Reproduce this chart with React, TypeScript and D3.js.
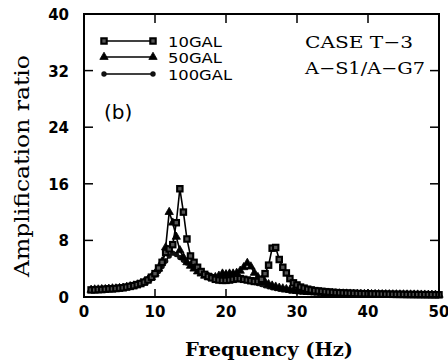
import React, { useEffect } from 'react';
import * as d3 from 'd3';

const frequencies = [
  1, 1.5, 2, 2.5, 3, 3.5, 4, 4.5, 5, 5.5,
  6, 6.5, 7, 7.5, 8, 8.5, 9, 9.5, 10, 10.5,
  11, 11.5, 12, 12.5, 13, 13.5, 14, 14.5, 15, 15.5,
  16, 16.5, 17, 17.5, 18, 18.5, 19, 19.5, 20, 20.5,
  21, 21.5, 22, 22.5, 23, 23.5, 24, 24.5, 25, 25.5,
  26, 26.5, 27, 27.5, 28, 28.5, 29, 29.5, 30, 30.5,
  31, 31.5, 32, 32.5, 33, 33.5, 34, 34.5, 35, 35.5,
  36, 36.5, 37, 37.5, 38, 38.5, 39, 39.5, 40, 40.5,
  41, 41.5, 42, 42.5, 43, 43.5, 44, 44.5, 45, 45.5,
  46, 46.5, 47, 47.5, 48, 48.5, 49, 49.5, 50,
];

const gal10 = [
  1.0, 1.0, 1.05, 1.05, 1.1, 1.15, 1.15, 1.2, 1.25, 1.3,
  1.4, 1.5, 1.6, 1.75, 1.9, 2.1, 2.4, 2.8, 3.3, 4.1,
  4.9, 6.3, 6.8, 7.4, 10.5, 15.3, 12.0, 8.2, 5.8, 4.9,
  4.2, 3.6, 3.2, 2.9, 2.7, 2.5, 2.4, 2.35, 2.35, 2.4,
  2.5, 2.6, 2.6, 2.5, 2.4, 2.3, 2.2, 2.2, 2.5, 3.3,
  4.5, 6.9, 7.0, 5.3, 4.2, 3.4, 2.6, 2.0, 1.7, 1.4,
  1.25, 1.1, 1.0, 0.9, 0.85, 0.8, 0.75, 0.7, 0.66, 0.62,
  0.6, 0.57, 0.55, 0.53, 0.51, 0.49, 0.47, 0.46, 0.45, 0.44,
  0.43, 0.42, 0.41, 0.4, 0.39, 0.38, 0.37, 0.37, 0.36, 0.35,
  0.35, 0.34, 0.34, 0.33, 0.33, 0.32, 0.32, 0.31, 0.31,
];

const gal50 = [
  1.0, 1.05, 1.05, 1.1, 1.1, 1.15, 1.2, 1.2, 1.25, 1.3,
  1.4, 1.5, 1.6, 1.75, 1.95, 2.15, 2.45, 2.8, 3.3, 4.0,
  5.0, 7.0, 12.0, 10.5, 8.5, 6.6, 5.6, 4.9, 4.4, 4.0,
  3.6, 3.3, 3.0, 2.8, 2.7, 2.8, 3.0, 3.3, 3.2, 3.3,
  3.3, 3.4, 3.7, 4.2, 4.8, 4.3, 3.4, 2.8, 2.4, 2.1,
  1.8, 1.6, 1.45, 1.3, 1.2, 1.1, 1.0, 0.9, 0.85, 0.8,
  0.75, 0.7, 0.67, 0.64, 0.61, 0.58, 0.56, 0.54, 0.52, 0.5,
  0.49, 0.48, 0.47, 0.46, 0.45, 0.44, 0.43, 0.42, 0.41, 0.4,
  0.4, 0.39, 0.38, 0.38, 0.37, 0.36, 0.36, 0.35, 0.35, 0.34,
  0.34, 0.33, 0.33, 0.32, 0.32, 0.31, 0.31, 0.3, 0.3,
];

const gal100 = [
  1.0, 1.0, 1.05, 1.05, 1.1, 1.1, 1.15, 1.2, 1.25, 1.3,
  1.4, 1.5, 1.6, 1.75, 1.9, 2.1, 2.35, 2.7, 3.1, 3.6,
  4.3, 5.1, 5.8, 6.2, 6.0, 5.6, 5.2, 4.8, 4.4, 4.1,
  3.8, 3.5, 3.3, 3.1, 2.9, 2.8, 2.7, 2.6, 2.55, 2.5,
  2.5, 2.5, 2.45, 2.4, 2.3, 2.2, 2.05, 1.9, 1.75, 1.6,
  1.45, 1.3, 1.2, 1.1, 1.0, 0.95, 0.85, 0.8, 0.75, 0.7,
  0.68, 0.65, 0.62, 0.6, 0.58, 0.56, 0.54, 0.52, 0.5, 0.5,
  0.48, 0.47, 0.46, 0.45, 0.44, 0.43, 0.42, 0.41, 0.4, 0.4,
  0.39, 0.38, 0.38, 0.37, 0.36, 0.36, 0.35, 0.35, 0.34, 0.34,
  0.33, 0.33, 0.32, 0.32, 0.31, 0.31, 0.3, 0.3, 0.3,
];

const xTicks = [0, 10, 20, 30, 40, 50];
const yTicks = [0, 8, 16, 24, 32, 40];
const legendLabels = ['10GAL', '50GAL', '100GAL'];
const caseLines = ['CASE T\u22123', 'A\u2212S1/A\u2212G7'];

const W = 448;
const H = 361;

type Kind = 'square' | 'triangle' | 'circle';

function Marker({ kind, cx, cy }: { kind: Kind; cx: number; cy: number }) {
  if (kind === 'square') {
    return <rect x={cx - 2.7} y={cy - 2.7} width={5.4} height={5.4} fill="#555" stroke="#000" strokeWidth={2.1} />;
  }
  if (kind === 'triangle') {
    const p = d3.symbol().type(d3.symbolTriangle).size(30)() as string;
    return <path d={p} transform={`translate(${cx},${cy})`} fill="#000" stroke="#000" strokeWidth={0.8} />;
  }
  return <circle cx={cx} cy={cy} r={2.7} fill="#111" />;
}

export default function App() {
  useEffect(() => {
    document.body.style.margin = '0';
  }, []);

  const x = d3.scaleLinear().domain([0, 50]).range([84, 439]);
  const y = d3.scaleLinear().domain([0, 40]).range([297, 14]);

  const series: { values: number[]; kind: Kind }[] = [
    { values: gal100, kind: 'circle' },
    { values: gal50, kind: 'triangle' },
    { values: gal10, kind: 'square' },
  ];

  const line = d3
    .line<number>()
    .x((_, i) => x(frequencies[i]))
    .y((d) => y(d));

  const legendKinds: Kind[] = ['square', 'triangle', 'circle'];
  const legendY = [41, 57, 74];
  const legendWidths = [54, 54, 64];

  const sans = "'DejaVu Sans', sans-serif";
  const serif = "'DejaVu Serif', serif";

  return (
    <svg width={W} height={H} style={{ display: 'block', position: 'absolute', left: 0, top: 0, background: '#fff' }}>
      <rect x={0} y={0} width={W} height={H} fill="#fff" />
      {series.map((s, si) => (
        <g key={si}>
          <path d={line(s.values) as string} fill="none" stroke="#000" strokeWidth={1.6} />
          {s.values.map((v, i) => (
            <Marker key={i} kind={s.kind} cx={x(frequencies[i])} cy={y(v)} />
          ))}
        </g>
      ))}
      <rect x={x(0)} y={y(40)} width={x(50) - x(0)} height={y(0) - y(40)} fill="none" stroke="#000" strokeWidth={2} />
      {xTicks.slice(1, -1).map((t) => (
        <g key={'xt' + t}>
          <line x1={x(t)} x2={x(t)} y1={y(0)} y2={y(0) - 8} stroke="#000" strokeWidth={1.5} />
          <line x1={x(t)} x2={x(t)} y1={y(40)} y2={y(40) + 9} stroke="#000" strokeWidth={1.5} />
        </g>
      ))}
      {yTicks.slice(1, -1).map((t) => (
        <g key={'yt' + t}>
          <line x1={x(0)} x2={x(0) + 9} y1={y(t)} y2={y(t)} stroke="#000" strokeWidth={1.5} />
          <line x1={x(50)} x2={x(50) - 9} y1={y(t)} y2={y(t)} stroke="#000" strokeWidth={1.5} />
        </g>
      ))}
      {xTicks.map((t) => (
        <text key={'xl' + t} x={x(t)} y={y(0) + 15} textAnchor="middle" dominantBaseline="central" fontFamily={sans} fontWeight="bold" fontSize={15}>
          {t}
        </text>
      ))}
      {yTicks.map((t) => (
        <text key={'yl' + t} x={69} y={y(t) + 1} textAnchor="end" dominantBaseline="central" fontFamily={sans} fontWeight="bold" fontSize={15}>
          {t}
        </text>
      ))}
      <text x={269} y={356} textAnchor="middle" fontFamily={serif} fontWeight="bold" fontSize={18} textLength={168} lengthAdjust="spacingAndGlyphs">
        Frequency (Hz)
      </text>
      <text transform="translate(29,166) rotate(-90)" textAnchor="middle" fontFamily={serif} fontSize={20} textLength={222} lengthAdjust="spacingAndGlyphs">
        Amplification ratio
      </text>
      {legendLabels.map((lab, i) => (
        <g key={lab}>
          <line x1={104} x2={153} y1={legendY[i]} y2={legendY[i]} stroke="#000" strokeWidth={1.4} />
          <Marker kind={legendKinds[i]} cx={104} cy={legendY[i]} />
          <Marker kind={legendKinds[i]} cx={153} cy={legendY[i]} />
          <text x={168} y={legendY[i] + 5.5} fontFamily={sans} fontSize={14} textLength={legendWidths[i]} lengthAdjust="spacingAndGlyphs">
            {lab}
          </text>
        </g>
      ))}
      <text x={305} y={48} fontFamily={serif} fontSize={17} textLength={108} lengthAdjust="spacingAndGlyphs">
        {caseLines[0]}
      </text>
      <text x={305} y={74} fontFamily={serif} fontSize={17} textLength={120} lengthAdjust="spacingAndGlyphs">
        {caseLines[1]}
      </text>
      <text x={104} y={119} fontFamily={sans} fontSize={20}>
        (b)
      </text>
    </svg>
  );
}
